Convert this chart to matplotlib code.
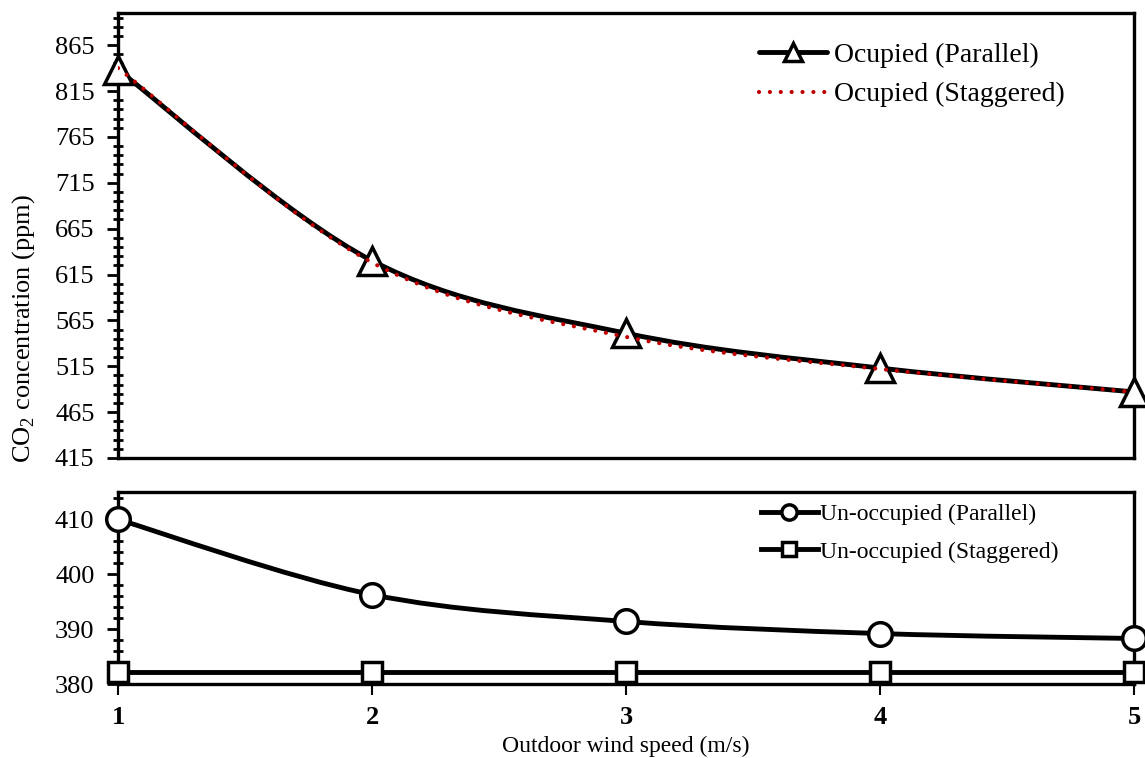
import numpy as np
import matplotlib
matplotlib.use("Agg")
import matplotlib.pyplot as plt
from matplotlib.path import Path
from matplotlib.patches import PathPatch
from matplotlib.lines import Line2D

plt.rcParams['font.family'] = ['Liberation Serif', 'DejaVu Serif']
plt.rcParams['mathtext.fontset'] = 'custom'
plt.rcParams['mathtext.rm'] = 'Liberation Serif'

# wind speed (m/s)
speed = [1, 2, 3, 4, 5]
# CO2 concentration (ppm)
occ_parallel = [838, 630, 551, 513, 487]
occ_staggered = [840, 628, 547, 512, 487]
unocc_parallel = [410, 396.3, 391.4, 389.2, 388.3]
unocc_staggered = [382.2, 382.2, 382.2, 382.2, 382.2]


def smooth_path(x, y):
    # Excel style smoothed line: cubic Bezier through each point
    x = np.asarray(x, float)
    y = np.asarray(y, float)
    pts = np.column_stack([x, y])
    verts = [pts[0]]
    codes = [Path.MOVETO]
    n = len(pts)
    for i in range(n - 1):
        p0 = pts[max(i - 1, 0)]
        p1 = pts[i]
        p2 = pts[i + 1]
        p3 = pts[min(i + 2, n - 1)]
        c1 = p1 + (p2 - p0) / 6.0
        c2 = p2 - (p3 - p1) / 6.0
        verts += [c1, c2, p2]
        codes += [Path.CURVE4] * 3
    return Path(verts, codes)


def add_curve(ax, x, y, **kw):
    patch = PathPatch(smooth_path(x, y), fill=False, **kw)
    ax.add_patch(patch)
    return patch


fig = plt.figure(figsize=(11.45, 7.58), dpi=100)
ax1 = fig.add_axes([0.1031, 0.3958, 0.8873, 0.5870])
ax2 = fig.add_axes([0.1031, 0.0976, 0.8873, 0.2533])

spine_w = 2.4
for ax in (ax1, ax2):
    for s in ax.spines.values():
        s.set_linewidth(spine_w)
    ax.set_xlim(1, 5)
    ax.tick_params(axis='y', which='major', direction='out', length=8, width=2, labelsize=19, pad=9)
    ax.tick_params(axis='y', which='minor', direction='inout', length=7, width=2)

# top panel: occupied
add_curve(ax1, speed, occ_parallel, edgecolor='black', lw=3.5, zorder=3, capstyle='round')
ax1.plot(speed, occ_parallel, linestyle='none', marker='^', markersize=20,
         markerfacecolor='white', markeredgecolor='black', markeredgewidth=2.5,
         zorder=4, clip_on=False)
add_curve(ax1, speed, occ_staggered, edgecolor='#C00000', lw=3, linestyle=(0, (0.01, 2.6)),
          capstyle='round', zorder=5)
ax1.set_ylim(415, 900)
ax1.set_yticks(np.arange(415, 866, 50))
ax1.set_yticks(np.arange(425, 900, 10), minor=True)
ax1.set_xticks([])

h1 = [Line2D([], [], color='black', lw=3.5, marker='^', markersize=13,
             markerfacecolor='white', markeredgecolor='black', markeredgewidth=2.5,
             solid_capstyle='round'),
      Line2D([], [], color='#C00000', lw=3, linestyle=(0, (0.01, 2.6)), dash_capstyle='round')]
ax1.legend(h1, ['Ocupied (Parallel)', 'Ocupied (Staggered)'], loc='upper right',
           bbox_to_anchor=(0.951, 0.978), frameon=False, fontsize=20, handlelength=2.45,
           handletextpad=0.25, labelspacing=0.51, borderaxespad=0.3)

# bottom panel: un-occupied
add_curve(ax2, speed, unocc_parallel, edgecolor='black', lw=3.5, zorder=3)
ax2.plot(speed, unocc_parallel, linestyle='none', marker='o', markersize=17,
         markerfacecolor='white', markeredgecolor='black', markeredgewidth=2.5,
         zorder=4, clip_on=False)
ax2.plot(speed, unocc_staggered, color='black', lw=3.5, marker='s', markersize=15,
         markerfacecolor='white', markeredgecolor='black', markeredgewidth=2.5,
         zorder=4, clip_on=False)
ax2.set_ylim(380, 415)
ax2.set_yticks([380, 390, 400, 410])
ax2.set_yticks(np.arange(382, 415, 2), minor=True)
ax2.set_xticks(speed)
ax2.tick_params(axis='x', direction='out', length=8, width=1.5, labelsize=19, pad=8)
for lab in ax2.get_xticklabels():
    lab.set_fontweight('bold')
ax2.set_xlabel('Outdoor wind speed (m/s)', fontsize=17, labelpad=5)

h2 = [Line2D([], [], color='black', lw=3.5, marker='o', markersize=11,
             markerfacecolor='white', markeredgecolor='black', markeredgewidth=2.5),
      Line2D([], [], color='black', lw=3.5, marker='s', markersize=10,
             markerfacecolor='white', markeredgecolor='black', markeredgewidth=2.5)]
ax2.legend(h2, ['Un-occupied (Parallel)', 'Un-occupied (Staggered)'], loc='upper right',
           bbox_to_anchor=(0.942, 1.024), frameon=False, fontsize=17, handlelength=2.4,
           handletextpad=0.1, labelspacing=0.66, borderaxespad=0.3)

fig.text(0.021, 0.566, 'CO$_2$ concentration (ppm)', rotation=90, fontsize=19,
         ha='center', va='center')

fig.savefig('out.png', dpi=100)
